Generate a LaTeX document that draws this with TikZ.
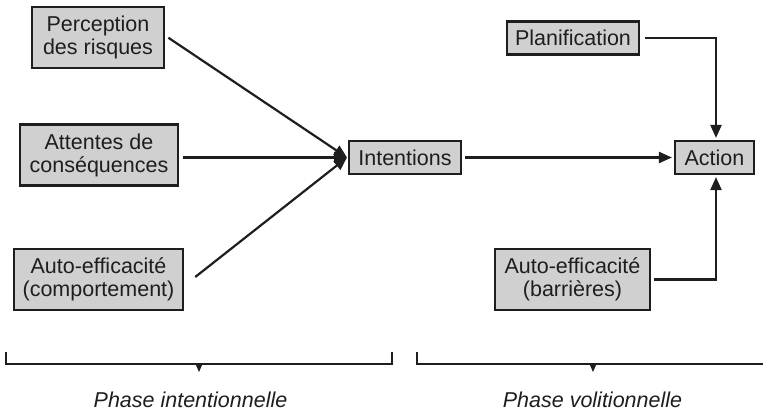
\documentclass[tikz,border=0pt]{standalone}
\usepackage{fontspec}
\setmainfont{Liberation Sans}
\usetikzlibrary{arrows.meta}
\definecolor{boxfill}{RGB}{208,208,208}
\definecolor{ink}{RGB}{30,30,30}
\begin{document}
\begin{tikzpicture}[x=1pt,y=-1pt,
  every node/.style={font=\fontsize{21.5}{23}\selectfont, text=ink},
  factor/.style={draw=ink, line width=2.1pt, fill=boxfill, inner sep=0pt,
                 align=center, minimum height=61pt},
  single/.style={factor, minimum height=33pt},
  link/.style={draw=ink, line width=2.2pt, -{Triangle[length=13pt,width=11pt]}},
  brace/.style={draw=ink, line width=1.9pt},
  marker/.style={fill=ink, draw=none},
  phase/.style={font=\fontsize{21.5}{23}\selectfont\itshape}]
\useasboundingbox (0,0) rectangle (763,415);

% motivational factors
\node[factor, minimum width=132pt] (risk) at (98,37.5) {Perception\\des risques};
\node[factor, minimum width=158pt] (outc) at (99,155) {Attentes de\\conséquences};
\node[factor, minimum width=169pt] (selfa) at (98.5,279.5) {Auto-efficacité\\(comportement)};

% central constructs
\node[single, minimum width=112pt] (intent) at (405,157.5) {Intentions};
\node[single, minimum width=132pt] (plan) at (573,38) {Planification};
\node[single, minimum width=79pt] (action) at (714.5,157.5) {Action};
\node[factor, minimum width=155pt] (selfb) at (572.5,279.5) {Auto-efficacité\\(barrières)};

% converging arrows into the intention
\coordinate (hub) at (347,157.5);
\draw[link, shorten <=4pt] (risk.east) ++(0,-2) -- (hub);
\draw[link, shorten <=4pt] (outc.east |- hub) -- (hub);
\draw[link, shorten <=4pt] (selfa.east) ++(8,0) -- (hub);

% volitional arrows
\draw[link, shorten <=3pt, shorten >=2pt] (intent.east) -- (action.west);
\coordinate (planturn) at (716,38);
\coordinate (selfturn) at (716,279.5);
\draw[link, shorten >=2pt] (plan.east) ++(5,0) -- (planturn) -- (planturn |- action.north);
\draw[link, shorten >=2pt] (selfb.east) ++(3,0) -- (selfturn) -- (selfturn |- action.south);

% phase brackets
\coordinate (la) at (6,352);
\coordinate (lb) at (392,352);
\coordinate (ra) at (417,352);
\coordinate (rb) at (763,364);
\draw[brace] (la) -- (6,364) -- (392,364) -- (lb);
\draw[brace] (ra) -- (417,364) -- (rb);
\fill[marker] (195.5,364) -- (202.5,364) -- (199,372) -- cycle;
\fill[marker] (589.5,364) -- (596.5,364) -- (593,372) -- cycle;

\node[phase] (pint) at (190.5,400) {Phase intentionnelle};
\node[phase] (pvol) at (592.5,400) {Phase volitionnelle};
\end{tikzpicture}
\end{document}
